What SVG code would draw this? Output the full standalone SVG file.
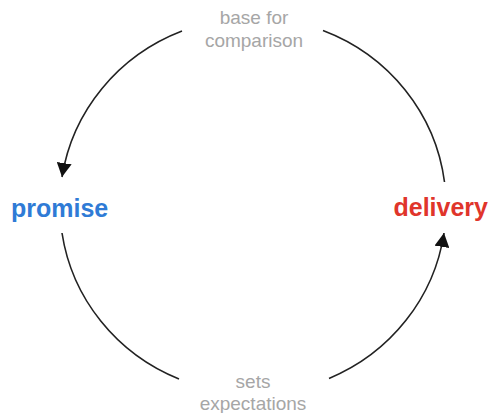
<svg xmlns="http://www.w3.org/2000/svg" width="490" height="413" viewBox="0 0 490 413">
  <style>
    .arc { fill: none; stroke: #222; stroke-width: 1.6; }
    .lbl { font-family: "Liberation Sans", Arial, sans-serif; font-size: 19px; fill: #a6a6a6; text-anchor: middle; }
    .node { font-family: "Liberation Sans", Arial, sans-serif; font-size: 25px; font-weight: bold; }
  </style>
  <defs>
    <marker id="arrow" markerUnits="userSpaceOnUse" markerWidth="15" markerHeight="15" refX="14" refY="7.5" orient="auto">
      <path d="M0,0 L14,7.5 L0,15 Z" fill="#111"/>
    </marker>
  </defs>
  <rect width="490" height="413" fill="#fff"/>
  <g id="connectors">
    <path class="arc" d="M182,31 A193 188 0 0 0 62,177" marker-end="url(#arrow)"/>
    <path class="arc" d="M323,30.5 A193 188 0 0 1 444.5,182"/>
    <path class="arc" d="M62,233 A193 188 0 0 0 179,379"/>
    <path class="arc" d="M329,378.5 A193 188 0 0 0 444,233" marker-end="url(#arrow)"/>
  </g>
  <g id="label-top">
    <text class="lbl" x="254" y="24">base for</text>
    <text class="lbl" x="254" y="47">comparison</text>
  </g>
  <g id="label-bottom">
    <text class="lbl" x="253" y="388">sets</text>
    <text class="lbl" x="253" y="410">expectations</text>
  </g>
  <g id="promise">
    <text class="node" x="11" y="217" fill="#2f7bd6">promise</text>
  </g>
  <g id="delivery">
    <text class="node" x="488" y="216" fill="#e0352b" text-anchor="end">delivery</text>
  </g>
</svg>
